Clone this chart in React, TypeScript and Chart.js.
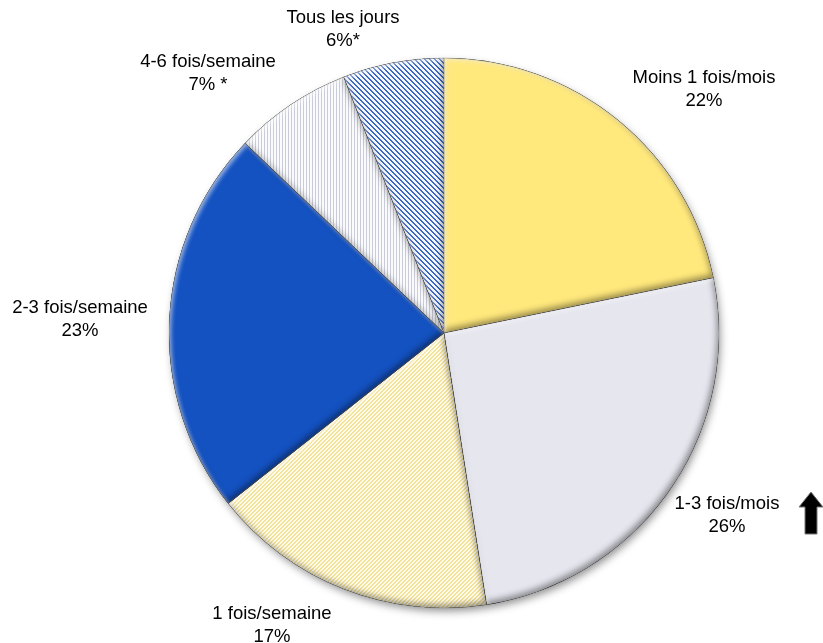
import React, { useEffect, useRef } from "react";
import { Chart, registerables } from "chart.js";

Chart.register(...registerables);

const categories = [
  "Moins 1 fois/mois",
  "1-3 fois/mois",
  "1 fois/semaine",
  "2-3 fois/semaine",
  "4-6 fois/semaine",
  "Tous les jours",
];
const values = [22, 26, 17, 23, 7, 6];
const valueLabels = ["22%", "26%", "17%", "23%", "7% *", "6%*"];
// label block centre offsets from pie centre (styling)
const labelOffsets: [number, number][] = [
  [260, -255],
  [283, 171],
  [-172, 281],
  [-364, -25],
  [-236, -271],
  [-101, -315],
];
const arrowIndex = 1;

const FONT = '"Liberation Sans", Arial, sans-serif';

function hexToRgb(h: string): number[] {
  const v = h.replace("#", "");
  return [parseInt(v.slice(0, 2), 16), parseInt(v.slice(2, 4), 16), parseInt(v.slice(4, 6), 16)];
}

function stripePattern(
  ctx: CanvasRenderingContext2D,
  size: number,
  fg: string,
  bg: string,
  dir: "back" | "fwd" | "vert",
  width: number
): CanvasPattern | string {
  const c = document.createElement("canvas");
  c.width = size;
  c.height = size;
  const x = c.getContext("2d");
  if (!x) return bg;
  const img = x.createImageData(size, size);
  const f = hexToRgb(fg);
  const b = hexToRgb(bg);
  for (let yy = 0; yy < size; yy++) {
    for (let xx = 0; xx < size; xx++) {
      let k: number;
      if (dir === "back") k = (((xx - yy) % size) + size) % size;
      else if (dir === "fwd") k = (xx + yy) % size;
      else k = xx % size;
      const on = k < width;
      const col = on ? f : b;
      const i = (yy * size + xx) * 4;
      img.data[i] = col[0];
      img.data[i + 1] = col[1];
      img.data[i + 2] = col[2];
      img.data[i + 3] = 255;
    }
  }
  x.putImageData(img, 0, 0);
  return ctx.createPattern(c, "repeat") || bg;
}

function arcPath(ctx: CanvasRenderingContext2D, p: any) {
  ctx.beginPath();
  ctx.moveTo(p.x, p.y);
  ctx.arc(p.x, p.y, p.outerRadius, p.startAngle, p.endAngle);
  ctx.closePath();
}

function innerShadow(ctx: CanvasRenderingContext2D, p: any, color: string, blur: number, ox: number, oy: number) {
  ctx.save();
  arcPath(ctx, p);
  ctx.clip();
  ctx.shadowColor = color;
  ctx.shadowBlur = blur;
  ctx.shadowOffsetX = ox;
  ctx.shadowOffsetY = oy;
  ctx.beginPath();
  ctx.rect(p.x - 2000, p.y - 2000, 4000, 4000);
  ctx.moveTo(p.x, p.y);
  ctx.arc(p.x, p.y, p.outerRadius, p.endAngle, p.startAngle, true);
  ctx.closePath();
  ctx.fillStyle = "rgba(0,0,0,1)";
  ctx.fill("evenodd");
  ctx.restore();
}

const shadowPlugin = {
  id: "pieShadow",
  beforeDatasetsDraw(chart: any) {
    const meta = chart.getDatasetMeta(0);
    const el = meta.data[0];
    if (!el) return;
    const p = el.getProps(["x", "y", "outerRadius"], true);
    const ctx = chart.ctx;
    ctx.save();
    ctx.shadowColor = "rgba(0,0,0,0.45)";
    ctx.shadowBlur = 8;
    ctx.shadowOffsetX = 2;
    ctx.shadowOffsetY = 4;
    ctx.beginPath();
    ctx.arc(p.x, p.y, p.outerRadius - 1, 0, Math.PI * 2);
    ctx.fillStyle = "#ffffff";
    ctx.fill();
    ctx.restore();
  },
  afterDatasetsDraw(chart: any) {
    const meta = chart.getDatasetMeta(0);
    const ctx = chart.ctx;
    meta.data.forEach((el: any) => {
      const p = el.getProps(["x", "y", "startAngle", "endAngle", "outerRadius"], true);
      innerShadow(ctx, p, "rgba(0,0,0,0.42)", 6, -2, -3);
      innerShadow(ctx, p, "rgba(255,255,255,0.6)", 4, 2, 2);
      ctx.save();
      arcPath(ctx, p);
      ctx.strokeStyle = "rgba(110,110,110,0.35)";
      ctx.lineWidth = 0.8;
      ctx.stroke();
      ctx.restore();
    });
  },
};

const labelPlugin = {
  id: "outerLabels",
  afterDraw(chart: any) {
    const meta = chart.getDatasetMeta(0);
    const el = meta.data[0];
    if (!el) return;
    const p = el.getProps(["x", "y"], true);
    const ctx = chart.ctx;
    ctx.save();
    ctx.fillStyle = "#000000";
    ctx.textAlign = "center";
    ctx.textBaseline = "middle";
    ctx.font = `18.5px ${FONT}`;
    categories.forEach((cat, i) => {
      const [dx, dy] = labelOffsets[i];
      const cx = p.x + dx;
      const cy = p.y + dy;
      ctx.fillStyle = "#000000";
      ctx.fillText(cat, cx, cy);
      ctx.fillText(valueLabels[i], cx, cy + 23);
      if (i === arrowIndex) {
        const ax = cx + 84;
        const ay = cy - 12;
        ctx.beginPath();
        ctx.moveTo(ax, ay);
        ctx.lineTo(ax + 12, ay + 15);
        ctx.lineTo(ax + 6, ay + 15);
        ctx.lineTo(ax + 6, ay + 42);
        ctx.lineTo(ax - 6, ay + 42);
        ctx.lineTo(ax - 6, ay + 15);
        ctx.lineTo(ax - 12, ay + 15);
        ctx.closePath();
        ctx.fillStyle = "#000000";
        ctx.fill();
        ctx.strokeStyle = "#777777";
        ctx.lineWidth = 1;
        ctx.stroke();
      }
    });
    ctx.restore();
  },
};

export default function App() {
  const ref = useRef<HTMLCanvasElement | null>(null);
  useEffect(() => {
    const canvas = ref.current;
    if (!canvas) return;
    const ctx = canvas.getContext("2d");
    if (!ctx) return;
    const colors = [
      "#FFE87C",
      "#E6E6EF",
      stripePattern(ctx, 4, "#F3E29A", "#FFFCEB", "fwd", 2),
      "#1452C2",
      stripePattern(ctx, 3, "#C8CCD8", "#FBFBFD", "vert", 1),
      stripePattern(ctx, 5, "#3A68C2", "#F4F7FD", "back", 2),
    ];
    const chart = new Chart(ctx, {
      type: "pie",
      data: {
        labels: categories,
        datasets: [
          {
            data: values,
            backgroundColor: colors as any,
            borderWidth: 0,
          },
        ],
      },
      options: {
        animation: false,
        responsive: true,
        maintainAspectRatio: false,
        layout: { padding: { left: 169, right: 104, top: 58, bottom: 35 } },
        plugins: {
          legend: { display: false },
          tooltip: { enabled: false },
        },
      },
      plugins: [shadowPlugin, labelPlugin],
    });
    return () => chart.destroy();
  }, []);
  return (
    <div
      style={{
        position: "fixed",
        left: 0,
        top: 0,
        width: 823,
        height: 643,
        background: "#ffffff",
      }}
    >
      <canvas ref={ref} />
    </div>
  );
}
